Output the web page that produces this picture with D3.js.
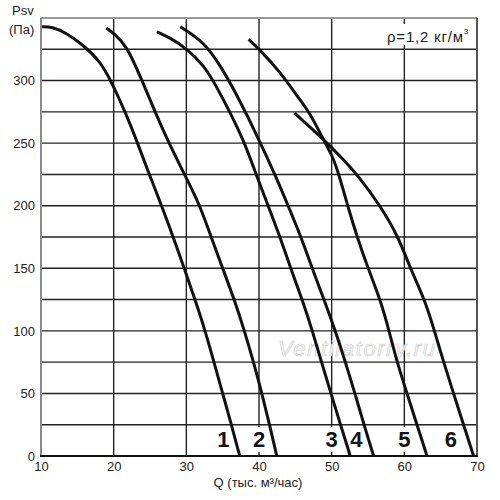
<!DOCTYPE html>
<html>
<head>
<meta charset="utf-8">
<script src="https://cdn.jsdelivr.net/npm/d3@7"></script>
<style>
  html, body { margin:0; padding:0; background:#fff; }
  svg { display:block; font-family:"Liberation Sans", Arial, sans-serif; }
</style>
</head>
<body>
<div id="chart"></div>
<script>
// Fan curves: [Q thousand m3/h, Psv Pa]
const curve1 = [[10.15,343],[11.5,343],[13.5,338],[15.8,328.5],[18.2,315],[19.6,300],[21.6,275],[23.3,250],[24.9,225],[26.6,200],[28.2,175],[29.7,150],[31.2,125],[32.6,100],[33.8,75],[35.0,50],[36.2,25],[37.35,0]];
const curve2 = [[19.0,342],[20.05,337.5],[21.8,328],[23.9,300],[25.7,275],[27.6,250],[29.75,225],[31.9,200],[33.4,175],[35.0,150],[36.6,125],[38.0,100],[39.25,75],[40.4,50],[41.45,25],[42.45,0]];
const curve3 = [[25.96,339],[27.8,334],[30.0,326],[32.4,312],[33.8,299],[36.0,275],[38.05,250],[39.6,225],[41.25,200],[42.9,175],[44.35,150],[45.95,125],[47.35,100],[48.6,75],[49.9,50],[51.22,25],[52.56,0]];
const curve4 = [[29.17,343],[32.4,331],[34.7,312],[37.0,288],[38.8,267],[40.2,250],[42.2,225],[44.0,200],[45.8,175],[47.3,150],[48.95,125],[50.5,100],[51.9,75],[53.2,50],[54.45,25],[55.77,0]];
const curve5 = [[38.57,333],[39.95,325.6],[42.9,307],[45.2,288],[47.05,274],[49.0,251],[50.1,240],[51.0,225],[52.2,200],[53.5,175],[55.0,150],[56.7,125],[57.9,100],[59.0,75],[60.37,50],[61.74,25],[63.12,0]];
const curve6 = [[44.9,274],[49.0,252.4],[51.6,237],[53.5,225],[56.7,200],[59.2,175],[60.8,150],[62.8,125],[64.15,100],[65.4,75],[66.78,50],[68.15,25],[69.53,0]];

const curves = [curve1, curve2, curve3, curve4, curve5, curve6];
const curveNames = ['1','2','3','4','5','6'];
const labelQ = [35.1, 40, 50, 53.4, 60, 66.4];

const xTicks = [10,20,30,40,50,60,70];
const yTicks = [0,50,100,150,200,250,300];
const yGrid = d3.range(0, 351, 25);

const width = 500, height = 500;
const margin = { top:18, right:23, bottom:44, left:41 };

const svg = d3.select('#chart').append('svg').attr('width', width).attr('height', height);
svg.append('rect').attr('width', width).attr('height', height).attr('fill', '#fff');

const x = d3.scaleLinear().domain([10,70]).range([margin.left, width - margin.right]);
const y = d3.scaleLinear().domain([0,350]).range([height - margin.bottom, margin.top]);

// grid
const grid = svg.append('g').attr('stroke', '#222').attr('stroke-width', 1.4);
grid.selectAll('line.h').data(yGrid.slice(1, -1)).join('line')
  .attr('x1', x(10)).attr('x2', x(70)).attr('y1', d => y(d)).attr('y2', d => y(d));
grid.selectAll('line.v').data(xTicks.slice(1, -1)).join('line')
  .attr('y1', y(0)).attr('y2', y(350)).attr('x1', d => x(d)).attr('x2', d => x(d));

// watermark
svg.append('text')
  .attr('x', x(10) + 237).attr('y', y(0) - 100)
  .attr('font-size', 22).attr('font-style', 'italic')
  .attr('textLength', 157).attr('lengthAdjust', 'spacing')
  .attr('fill', '#fbfbfb').attr('stroke', '#cfcfcf').attr('stroke-width', 0.7)
  .text('Ventilatorry.ru');

// white boxes under curve numbers (they hide the grid)
svg.append('g').selectAll('rect').data(labelQ).join('rect')
  .attr('x', d => x(d) - 7).attr('y', y(0) - 29)
  .attr('width', 14).attr('height', 25)
  .attr('fill', '#fff');

// density label box
const rho = svg.append('g');
rho.append('rect').attr('x', 386).attr('y', 24).attr('width', 86).attr('height', 21).attr('fill', '#fff');
const rt = rho.append('text').attr('x', 387).attr('y', 42).attr('font-size', 15).attr('fill', '#222');
rt.append('tspan').attr('textLength', 76).attr('lengthAdjust', 'spacing').text('ρ=1,2 кг/м');
rt.append('tspan').attr('font-size', 8).attr('dy', -8).text('3');

// curves
const line = d3.line()
  .x(d => x(d[0])).y(d => y(d[1]))
  .curve(d3.curveBasis);
svg.append('g').selectAll('path').data(curves).join('path')
  .attr('d', line)
  .attr('fill', 'none').attr('stroke', '#111').attr('stroke-width', 3);

// curve numbers
svg.append('g').selectAll('text').data(curveNames).join('text')
  .attr('x', (d, i) => x(labelQ[i])).attr('y', y(0) - 9)
  .attr('text-anchor', 'middle').attr('font-size', 22).attr('font-weight', 'bold')
  .attr('fill', '#111')
  .text(d => d);

// frame
const frame = svg.append('g');
frame.append('line').attr('x1', x(10)).attr('x2', x(70)).attr('y1', y(350)).attr('y2', y(350)).attr('stroke', '#999').attr('stroke-width', 2);
frame.append('line').attr('x1', x(10)).attr('x2', x(10)).attr('y1', y(350)).attr('y2', y(0)).attr('stroke', '#8a8a8a').attr('stroke-width', 2);
frame.append('line').attr('x1', x(70)).attr('x2', x(70)).attr('y1', y(350)).attr('y2', y(0)).attr('stroke', '#555').attr('stroke-width', 2);
frame.append('line').attr('x1', x(10) - 1).attr('x2', x(70) + 1).attr('y1', y(0)).attr('y2', y(0)).attr('stroke', '#111').attr('stroke-width', 2.2);

// axes (labels only, the grid carries the lines)
const xAxis = d3.axisBottom(x).tickValues(xTicks).tickSize(0).tickPadding(6);
const gx = svg.append('g').attr('transform', `translate(0,${y(0)})`).call(xAxis);
gx.select('.domain').remove();
gx.selectAll('text').attr('font-size', 13).attr('fill', '#222').attr('font-family', '"Liberation Sans", Arial, sans-serif');

const yAxis = d3.axisLeft(y).tickValues(yTicks).tickSize(0).tickPadding(6);
const gy = svg.append('g').attr('transform', `translate(${x(10)},0)`).call(yAxis);
gy.select('.domain').remove();
gy.selectAll('text').attr('font-size', 13).attr('fill', '#222').attr('font-family', '"Liberation Sans", Arial, sans-serif');

// axis titles
svg.append('text').attr('x', 12).attr('y', 15).attr('font-size', 13).attr('fill', '#222').text('Psv');
svg.append('text').attr('x', 9).attr('y', 34).attr('font-size', 13).attr('fill', '#222').text('(Па)');
svg.append('text').attr('x', 258).attr('y', 487).attr('text-anchor', 'middle')
  .attr('font-size', 13).attr('fill', '#222').text('Q (тыс. м³/час)');
</script>
</body>
</html>
